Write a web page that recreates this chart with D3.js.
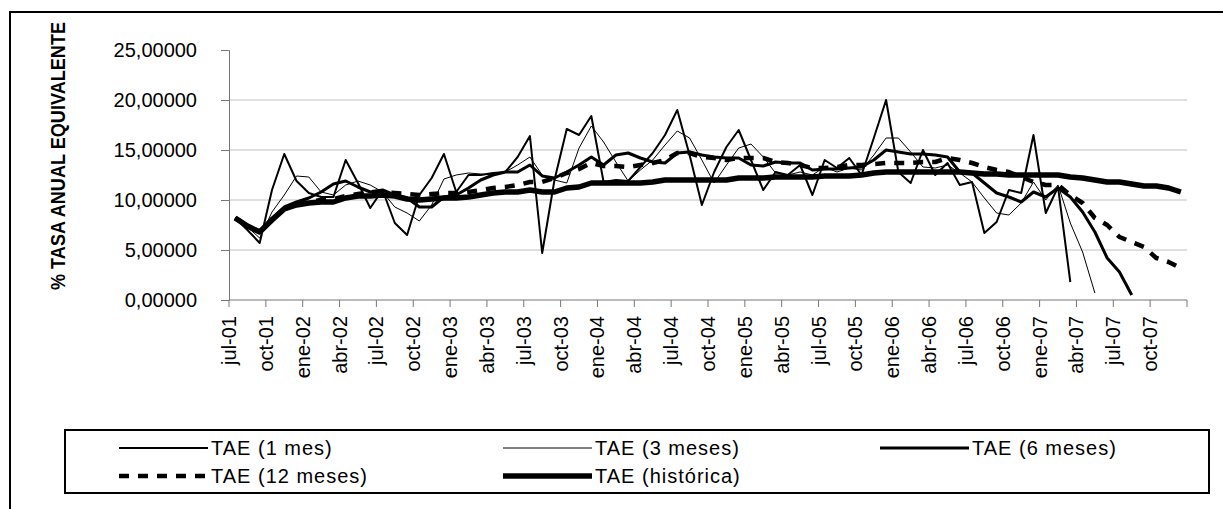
<!DOCTYPE html>
<html>
<head>
<meta charset="UTF-8">
<title>TAE</title>
<script src="https://cdn.jsdelivr.net/npm/d3@7"></script>
<style>
body{margin:0;background:#fff;}
text{font-family:Arial,"Liberation Sans",sans-serif;}
</style>
</head>
<body>
<script>
// meses jul-01 .. dic-07
var monthNames = ["ene","feb","mar","abr","may","jun","jul","ago","sep","oct","nov","dic"];
var months = [];
for (var y = 2001; y <= 2007; y++) {
	for (var m = 0; m < 12; m++) {
		if (y == 2001 && m < 6) continue;
		months.push(monthNames[m] + "-" + String(y).slice(2));
	}
}
var yTicks = [0,5,10,15,20,25];

var tae1 = [8.2,7.0,5.7,11.0,14.6,11.9,10.7,10.3,10.3,14.0,11.7,9.2,11.0,7.7,6.5,10.5,12.2,14.6,10.8,12.5,
	12.5,12.7,12.8,14.3,16.4,4.7,12.0,17.1,16.5,18.4,11.8,12.0,11.9,13.3,14.7,16.5,19.0,14.5,9.5,12.8,
	15.3,17.0,14.0,11.0,12.8,12.5,13.5,10.5,14.0,13.2,14.2,12.5,16.2,20.0,12.8,11.7,15.0,12.5,13.7,11.5,
	11.8,6.7,7.8,11.0,10.7,16.5,8.7,11.3,1.8];
var tae3 = [8.2,7.3,6.2,8.8,10.5,12.4,12.3,10.8,10.5,11.5,11.9,11.5,10.8,9.3,8.7,7.9,9.5,12.1,12.5,12.7,
	12.6,12.5,12.8,13.5,14.3,12.5,12.0,11.7,15.2,17.4,15.8,13.8,11.9,13.0,14.0,15.5,16.9,16.2,14.0,11.7,
	13.5,15.2,15.6,14.3,12.7,12.5,12.8,12.5,13.3,12.8,13.2,13.0,14.5,16.2,16.2,14.8,13.3,13.2,13.5,12.7,
	11.8,10.2,8.7,8.5,9.7,11.8,10.0,11.5,7.7,4.8,0.7];
var tae6 = [8.2,7.5,6.9,8.2,9.3,9.8,10.2,10.8,11.6,11.9,11.3,10.8,11.0,10.5,10.2,9.3,9.3,10.3,10.5,11.2,
	12.0,12.5,12.8,12.8,13.5,12.4,12.2,12.8,13.5,14.3,13.5,14.5,14.7,14.2,13.8,13.7,14.7,14.8,14.5,14.3,
	14.2,14.2,13.5,13.4,13.8,13.7,13.7,13.0,13.1,13.1,13.2,13.3,14.0,15.0,14.8,14.6,14.6,14.5,14.3,12.8,
	12.7,11.7,10.7,10.3,9.8,10.8,10.3,11.2,10.3,8.8,6.8,4.2,2.8,0.5];
var tae12 = [8.2,7.4,6.8,8.0,9.1,9.5,9.8,10.0,10.1,10.4,10.6,10.8,10.8,10.7,10.6,10.5,10.6,10.7,10.7,10.8,
	11.0,11.2,11.3,11.5,11.8,11.8,12.2,12.7,13.1,13.7,13.4,13.4,13.3,13.5,13.7,14.0,14.7,14.7,14.3,14.2,
	14.0,14.2,14.2,14.2,13.8,13.7,13.5,13.2,13.2,13.3,13.5,13.5,13.6,13.7,13.7,13.7,13.8,13.8,14.2,14.0,
	13.7,13.3,13.0,12.8,12.3,11.8,11.5,11.5,10.5,9.7,8.2,7.5,6.3,5.8,5.3,4.2,3.8,3.2];
var taeHist = [8.2,7.4,6.8,8.0,9.1,9.5,9.7,9.8,9.8,10.2,10.4,10.4,10.5,10.4,10.1,10.0,10.1,10.2,10.2,10.3,
	10.5,10.7,10.8,10.8,11.0,10.8,10.8,11.2,11.3,11.7,11.7,11.7,11.7,11.7,11.8,12.0,12.0,12.0,12.0,12.0,
	12.0,12.2,12.2,12.2,12.3,12.3,12.3,12.3,12.4,12.4,12.4,12.5,12.7,12.8,12.8,12.8,12.8,12.8,12.8,12.8,
	12.7,12.6,12.6,12.5,12.5,12.5,12.5,12.5,12.3,12.2,12.0,11.8,11.8,11.6,11.4,11.4,11.2,10.8];

var series = [
	{name:"TAE (1 mes)", values:tae1, w:2, dash:null},
	{name:"TAE (3 meses)", values:tae3, w:1, dash:null},
	{name:"TAE (6 meses)", values:tae6, w:3, dash:null},
	{name:"TAE (12 meses)", values:tae12, w:4.5, dash:"10,9"},
	{name:"TAE (histórica)", values:taeHist, w:5.5, dash:null}
];

var width = 1223, height = 509;
var svg = d3.select("body").append("svg").attr("width",width).attr("height",height);

var x = d3.scaleBand().domain(months).range([229,1187]);
var yS = d3.scaleLinear().domain([0,25]).range([300,50]);

// rejilla
svg.append("g").selectAll("line").data(yTicks.filter(function(d){return d>0 && d<25;}))
	.enter().append("line")
	.attr("x1",229).attr("x2",1187)
	.attr("y1",function(d){return yS(d);}).attr("y2",function(d){return yS(d);})
	.attr("stroke","#c0c0c0").attr("stroke-width",1);

var fmt = function(d){return d3.format(".5f")(d).replace(".",",");};
var yAxis = svg.append("g").attr("transform","translate(229,0)")
	.call(d3.axisLeft(yS).tickValues(yTicks).tickFormat(fmt).tickSize(8).tickPadding(24));
yAxis.select(".domain").attr("stroke","#777");
yAxis.selectAll(".tick line").attr("stroke","#777");
yAxis.selectAll("text").attr("font-size",20).attr("fill","#000");

// eje x: marcas cada 3 meses en el borde de categoria
var xg = svg.append("g");
xg.append("line").attr("x1",229).attr("x2",1187).attr("y1",300).attr("y2",300).attr("stroke","#777");
var tickIdx = d3.range(0, months.length + 1, 3);
xg.selectAll("line.t").data(tickIdx).enter().append("line").attr("class","t")
	.attr("x1",function(i){return 229 + i*x.bandwidth();})
	.attr("x2",function(i){return 229 + i*x.bandwidth();})
	.attr("y1",300).attr("y2",307).attr("stroke","#777");
xg.selectAll("text").data(months.filter(function(d,i){return i%3==0;})).enter().append("text")
	.attr("transform",function(d){return "translate(" + (x(d)+7) + ",316) rotate(-90)";})
	.attr("text-anchor","end").attr("font-size",20).text(function(d){return d;});

// titulo eje y
svg.append("text").attr("transform","translate(65,156) rotate(-90)")
	.attr("text-anchor","middle").attr("font-size",21).attr("font-weight","bold")
	.attr("textLength",268).attr("lengthAdjust","spacingAndGlyphs")
	.text("% TASA ANUAL EQUIVALENTE");

// marco exterior
svg.append("rect").attr("x",10).attr("y",12).attr("width",1240).attr("height",520)
	.attr("fill","none").attr("stroke","#000").attr("stroke-width",2);

// lineas
var line = d3.line()
	.x(function(d,i){return x(months[i]) + x.bandwidth()/2;})
	.y(function(d){return yS(d);});
svg.append("g").selectAll("path").data(series.slice().reverse()).enter().append("path")
	.attr("d",function(s){return line(s.values);})
	.attr("fill","none").attr("stroke","#000")
	.attr("stroke-width",function(s){return s.w;})
	.attr("stroke-dasharray",function(s){return s.dash;})
	.attr("stroke-linejoin","round");

// leyenda
var lg = svg.append("g");
lg.append("rect").attr("x",65).attr("y",430).attr("width",1144).attr("height",63)
	.attr("fill","#fff").attr("stroke","#000").attr("stroke-width",2);
var legPos = [[119,448],[503,448],[880,448],[119,476],[503,476]];
series.forEach(function(s,i){
	var p = legPos[i];
	lg.append("line").attr("x1",p[0]).attr("x2",p[0]+89).attr("y1",p[1]).attr("y2",p[1])
		.attr("stroke","#000").attr("stroke-width",s.w).attr("stroke-dasharray",s.dash);
	lg.append("text").attr("x",p[0]+92).attr("y",p[1]+7).attr("font-size",20)
		.attr("letter-spacing",1).text(s.name);
});
</script>
</body>
</html>
